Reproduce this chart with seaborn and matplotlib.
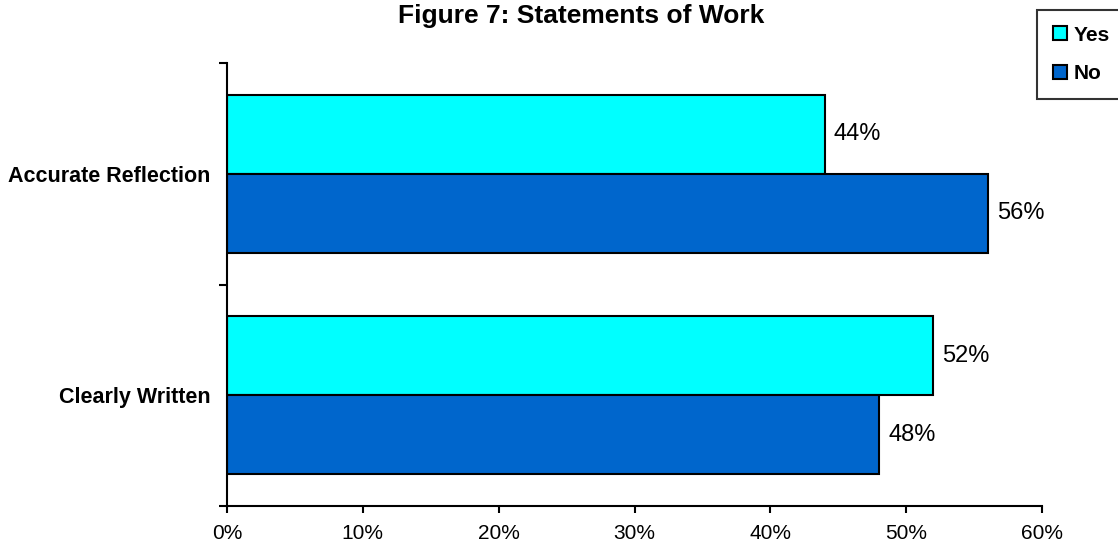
import matplotlib
matplotlib.use("Agg")
import matplotlib.pyplot as plt
import seaborn as sns
import pandas as pd
from matplotlib.patches import Patch

categories = ["Accurate Reflection", "Clearly Written"]
yes_values = [44, 52]
no_values = [56, 48]
series = ["Yes", "No"]
x_ticks = [0, 10, 20, 30, 40, 50, 60]
title = "Figure 7: Statements of Work"

colors = {"Yes": "#00FFFF", "No": "#0066CC"}

df = pd.DataFrame({
    "category": categories * 2,
    "answer": ["Yes"] * len(categories) + ["No"] * len(categories),
    "value": yes_values + no_values,
})

sns.set_style("white")
plt.rcParams["font.family"] = ["Liberation Sans", "DejaVu Sans"]
plt.rcParams.update({"text.color": "black", "axes.labelcolor": "black",
                     "xtick.color": "black", "ytick.color": "black"})

fig = plt.figure(figsize=(11.18, 5.48), dpi=100)
ax = fig.add_axes([227 / 1118, 42 / 548, 815 / 1118, 443 / 548])

sns.barplot(data=df, y="category", x="value", hue="answer", order=categories,
            hue_order=series, palette=colors, orient="h", width=0.713,
            saturation=1, edgecolor="black", linewidth=1.5, ax=ax, legend=False)

# value labels at the end of each bar
for container, vals in zip(ax.containers, [yes_values, no_values]):
    ax.bar_label(container, labels=[f"{v}%" for v in vals], padding=6.5, fontsize=17)

ax.set_xlim(0, 60)
ax.set_ylim(1.5, -0.5)
ax.set_xticks(x_ticks)
ax.set_xticklabels([f"{t}%" for t in x_ticks], fontsize=15)
ax.set_xlabel("")
ax.set_ylabel("")

# category boundaries as major ticks, names on minor ticks
ax.set_yticks([-0.5, 0.5, 1.5])
ax.set_yticklabels([])
ax.set_yticks([0, 1], minor=True)
ax.set_yticklabels(categories, minor=True, fontsize=15.5, fontweight="bold")
ax.tick_params(axis="y", which="minor", length=0, pad=12)
ax.tick_params(axis="y", which="major", direction="out", length=6, width=1.5, left=True)
ax.tick_params(axis="x", direction="out", length=5, width=1.5, bottom=True, pad=8)

for side in ["top", "right"]:
    ax.spines[side].set_visible(False)
for side in ["left", "bottom"]:
    ax.spines[side].set_color("black")
    ax.spines[side].set_linewidth(1.5)

fig.text(581 / 1118, 1 - 16 / 548, title, ha="center", va="center",
         fontsize=19, fontweight="bold")

handles = [Patch(facecolor=colors[s], edgecolor="black", linewidth=1.5, label=s) for s in series]
leg = fig.legend(handles=handles, loc="upper left", bbox_to_anchor=(1037 / 1118, 1 - 10 / 548),
                 frameon=True, fancybox=False, edgecolor="black", handlelength=0.67,
                 handleheight=0.67, handletextpad=0.35, labelspacing=0.95,
                 borderpad=0.75, borderaxespad=0, prop={"weight": "bold", "size": 15})
leg.get_frame().set_linewidth(1.5)

fig.savefig("out.png", dpi=100)
